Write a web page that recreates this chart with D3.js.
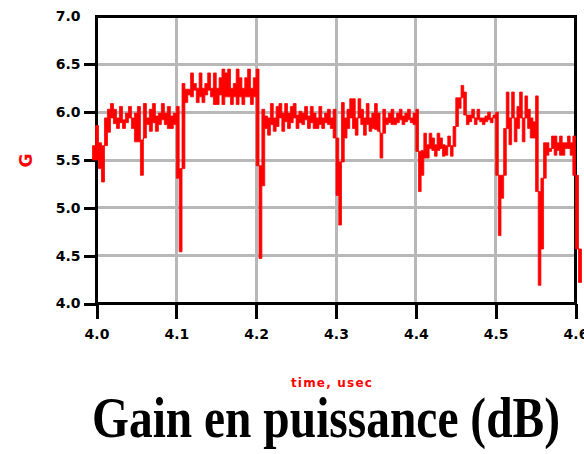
<!DOCTYPE html>
<html>
<head>
<meta charset="utf-8">
<script src="https://cdn.jsdelivr.net/npm/d3@7"></script>
<style>
  body { margin: 0; background: #fff; }
  svg { display: block; }
  .tick text { font-family: "DejaVu Sans", sans-serif; font-weight: bold; font-size: 14px; fill: #000; }
</style>
</head>
<body>
<svg id="chart" width="584" height="454"></svg>
<script>
// tick values
var xTicks = [4.0, 4.1, 4.2, 4.3, 4.4, 4.5, 4.6];
var yTicks = [7.0, 6.5, 6.0, 5.5, 5.0, 4.5, 4.0];

// the trace is split in sections, each one starting at the dip near a grid line
var sectionStart = [3.995, 4.1, 4.2, 4.3, 4.4, 4.5, 4.6];
var sectionEnd   = [4.1, 4.2, 4.3, 4.4, 4.5, 4.6, 4.6075];

// gain per screen column : [max, min] in dB
var gain40 = [[5.65,5.50],[5.86,5.50],[5.68,5.41],[5.65,5.27],[5.94,5.65],[6.03,5.79],[6.09,5.94],
              [6.03,5.88],[5.94,5.83],[6.06,5.89],[5.92,5.83],[5.99,5.89],[6.06,5.94],[5.94,5.83],
              [5.99,5.69],[6.06,5.69],[5.71,5.34],[6.09,5.73],[5.94,5.87],[6.03,5.80],[6.09,5.89],
              [5.96,5.80],[5.99,5.87],[6.09,5.92],[5.99,5.87],[6.06,5.83],[5.96,5.83],[5.99,5.87]];
var gain41 = [[6.06,5.31],[5.41,4.54],[6.30,5.41],[6.24,6.10],[6.24,6.18],[6.41,6.16],[6.30,6.23],
              [6.25,6.10],[6.41,6.16],[6.25,6.10],[6.30,6.18],[6.41,6.23],[6.25,6.16],[6.41,6.08],
              [6.25,6.08],[6.36,6.18],[6.45,6.08],[6.41,6.16],[6.45,6.16],[6.25,6.08],[6.30,6.16],
              [6.45,6.08],[6.36,6.16],[6.25,6.08],[6.36,6.16],[6.45,6.16],[6.25,6.08],[6.36,6.16]];
var gain42 = [[6.45,5.44],[5.44,4.47],[6.03,5.23],[5.96,5.83],[5.94,5.76],[6.09,5.87],[5.94,5.80],
              [6.06,5.85],[6.09,5.94],[5.99,5.80],[6.09,5.90],[5.99,5.83],[6.06,5.89],[6.09,5.94],
              [5.97,5.83],[6.01,5.89],[5.99,5.87],[6.06,5.92],[5.96,5.83],[6.06,5.89],[5.99,5.83],
              [5.94,5.83],[6.06,5.87],[5.94,5.83],[5.99,5.89],[6.03,5.87],[5.94,5.83],[6.03,5.73]];
var gain43 = [[5.73,5.13],[5.48,4.82],[6.10,5.48],[5.94,5.73],[6.03,5.83],[6.14,5.94],[6.14,5.83],
              [5.94,5.76],[6.14,5.94],[6.03,5.87],[5.94,5.76],[6.09,5.87],[5.94,5.80],[5.99,5.83],
              [6.09,5.82],[5.99,5.80],[5.78,5.52],[6.03,5.78],[5.94,5.87],[5.99,5.89],[6.03,5.87],
              [5.94,5.87],[5.99,5.89],[6.03,5.92],[5.96,5.87],[5.99,5.90],[6.03,5.92],[5.94,5.89],
              [5.99,5.87]];
var gain44 = [[6.03,5.59],[5.59,5.17],[5.60,5.34],[5.78,5.52],[5.66,5.52],[5.78,5.62],[5.73,5.60],
              [5.66,5.54],[5.78,5.60],[5.73,5.62],[5.66,5.54],[5.65,5.55],[5.75,5.64],[5.65,5.54],
              [5.85,5.64],[6.15,5.85],[6.15,6.04],[6.28,6.15],[6.21,5.97],[5.97,5.87],[5.97,5.90],
              [6.03,5.94],[5.94,5.87],[6.03,5.92],[5.94,5.90],[5.94,5.87],[5.96,5.90],[6.00,5.92],
              [5.94,5.89],[5.97,5.94]];
var gain45 = [[6.00,5.34],[5.34,4.71],[5.34,5.10],[5.83,5.34],[6.21,5.83],[5.94,5.66],[6.21,5.94],
              [5.94,5.69],[6.06,5.83],[6.21,5.94],[5.94,5.69],[6.17,5.94],[6.03,5.83],[5.94,5.73],
              [5.90,5.73],[6.17,5.17],[5.17,4.19],[5.31,4.57],[5.68,5.31],[5.68,5.55],[5.62,5.59],
              [5.75,5.62],[5.75,5.55],[5.68,5.60],[5.75,5.55],[5.68,5.55],[5.68,5.62],[5.75,5.62],
              [5.68,5.55],[5.75,5.34]];
var gain46 = [[5.34,4.57],[4.57,4.22]];

var sections = [gain40, gain41, gain42, gain43, gain44, gain45, gain46];

var svg = d3.select("#chart");

var x = d3.scaleLinear().domain([4.0, 4.6]).range([96.5, 575.5]);
var y = d3.scaleLinear().domain([4.0, 7.0]).range([303.5, 16.5]);

// grid
svg.append("g")
    .selectAll("line")
    .data(xTicks.slice(1, -1))
    .enter().append("line")
    .attr("x1", function (d) { return x(d); })
    .attr("x2", function (d) { return x(d); })
    .attr("y1", y(7.0))
    .attr("y2", y(4.0))
    .style("stroke", "#b8b8b8")
    .style("stroke-width", 3)
    .style("shape-rendering", "crispEdges");

svg.append("g")
    .selectAll("line")
    .data(yTicks.slice(1, -1))
    .enter().append("line")
    .attr("x1", x(4.0))
    .attr("x2", x(4.6))
    .attr("y1", function (d) { return y(d); })
    .attr("y2", function (d) { return y(d); })
    .style("stroke", "#b8b8b8")
    .style("stroke-width", 3)
    .style("shape-rendering", "crispEdges");

// axes
var yAxis = svg.append("g")
    .attr("transform", "translate(" + x(4.0) + ",0)")
    .call(d3.axisLeft(y).tickValues(yTicks).tickSize(13).tickPadding(3).tickFormat(d3.format(".1f")));

var xAxis = svg.append("g")
    .attr("transform", "translate(0," + y(4.0) + ")")
    .call(d3.axisBottom(x).tickValues(xTicks).tickSize(15).tickPadding(11).tickFormat(d3.format(".1f")));

svg.selectAll(".domain").remove();
svg.selectAll(".tick line")
    .style("stroke", "#000")
    .style("stroke-width", 3)
    .style("shape-rendering", "crispEdges");
// no tick mark on the top value
yAxis.selectAll(".tick").filter(function (d) { return d === 7.0; }).select("line").remove();

// frame
svg.append("rect")
    .attr("x", x(4.0))
    .attr("y", y(7.0))
    .attr("width", x(4.6) - x(4.0))
    .attr("height", y(4.0) - y(7.0))
    .style("fill", "none")
    .style("stroke", "#000")
    .style("stroke-width", 3)
    .style("shape-rendering", "crispEdges");

// trace
var pts = [];
sections.forEach(function (sec, k) {
    var w = (sectionEnd[k] - sectionStart[k]) / sec.length;
    sec.forEach(function (d, i) {
        pts.push({t: sectionStart[k] + i * w, hi: d[0], lo: d[1]});
    });
});
var last = pts[pts.length - 1];
pts.push({t: sectionEnd[sectionEnd.length - 1], hi: last.hi, lo: last.lo});

var area = d3.area()
    .x(function (d) { return x(d.t); })
    .y0(function (d) { return y(d.lo); })
    .y1(function (d) { return y(d.hi); })
    .curve(d3.curveStepAfter);

svg.append("path")
    .datum(pts)
    .attr("d", area)
    .style("fill", "#ff0000")
    .style("stroke", "#ff0000")
    .style("stroke-width", 0.8);

// labels
svg.append("text")
    .attr("transform", "translate(25.5,160.5) rotate(-90)")
    .attr("text-anchor", "middle")
    .attr("dominant-baseline", "central")
    .style("font-family", "DejaVu Sans")
    .style("font-weight", "bold")
    .style("font-size", "17px")
    .style("fill", "#ff0000")
    .text("G");

svg.append("text")
    .attr("x", 332)
    .attr("y", 387)
    .attr("text-anchor", "middle")
    .style("font-family", "DejaVu Sans")
    .style("font-weight", "bold")
    .style("font-size", "12px")
    .style("letter-spacing", "1.2px")
    .style("fill", "#ff0000")
    .text("time, usec");

svg.append("text")
    .attr("x", 92)
    .attr("y", 437)
    .attr("textLength", 468)
    .attr("lengthAdjust", "spacingAndGlyphs")
    .style("font-family", "Liberation Serif")
    .style("font-weight", "bold")
    .style("font-size", "57px")
    .style("fill", "#000")
    .text("Gain en puissance (dB)");
</script>
</body>
</html>
